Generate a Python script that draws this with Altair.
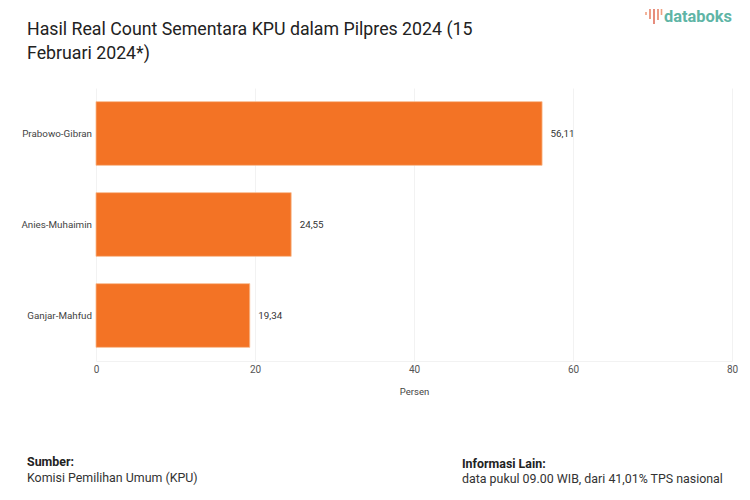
import altair as alt
import pandas as pd

candidates = ["Prabowo-Gibran", "Anies-Muhaimin", "Ganjar-Mahfud"]
values = [56.11, 24.55, 19.34]
x_ticks = [0, 20, 40, 60, 80]
title_lines = ["Hasil Real Count Sementara KPU dalam Pilpres 2024 (15", "Februari 2024*)"]
source_head = "Sumber:"
source_body = "Komisi Pemilihan Umum (KPU)"
info_head = "Informasi Lain:"
info_body = "data pukul 09.00 WIB, dari 41,01% TPS nasional"
logo_text = "databoks"

FONT = "Roboto"
df = pd.DataFrame({
    "kandidat": candidates,
    "persen": values,
    "label": [f"{v:.2f}".replace(".", ",") for v in values],
})

y = alt.Y("kandidat:N", sort=candidates, title=None,
          scale=alt.Scale(paddingInner=0.3, paddingOuter=0.15),
          axis=alt.Axis(ticks=False, domain=False, grid=False, labelFont=FONT,
                        labelFontSize=9.8, labelColor="#444444", labelPadding=4.5))
x = alt.X("persen:Q", title="Persen",
          scale=alt.Scale(domain=[0, 80], nice=False),
          axis=alt.Axis(values=x_ticks, ticks=False, domain=True, domainColor="#f2f2f2",
                        grid=True, gridColor="#f2f2f2", labelFont=FONT, labelFontSize=10,
                        labelColor="#555555", labelPadding=3, titleFont=FONT,
                        titleFontSize=9.5, titleFontWeight="normal", titleColor="#444444",
                        titlePadding=12, labelFlush=False))

bars = alt.Chart(df).mark_bar(color="#F37325", stroke="#F9B98C", strokeWidth=0.8).encode(x=x, y=y)
labels = alt.Chart(df).mark_text(align="left", baseline="middle", dx=8.5, font=FONT,
                                 fontSize=9.8, color="#333333").encode(
    x="persen:Q", y=alt.Y("kandidat:N", sort=candidates), text="label:N")


def note(text, px, py, size, weight="normal", color="#222222"):
    return alt.Chart(pd.DataFrame({"t": [text]})).mark_text(
        align="left", baseline="alphabetic", font=FONT, fontSize=size,
        fontWeight=weight, color=color, clip=False).encode(
        x=alt.value(px), y=alt.value(py), text="t:N")


def stroke(px, py, py2, color):
    return alt.Chart(pd.DataFrame({"a": [0]})).mark_rule(color=color, strokeWidth=1.6, clip=False).encode(
        x=alt.value(px), y=alt.value(py), y2=alt.value(py2))


left = 88
top = 80
layers = [
    bars, labels,
    note(title_lines[0], 27 - 8 - left, 35 - 8 - top, 17.75),
    note(title_lines[1], 27 - 8 - left, 59 - 8 - top, 17.75),
    note(source_head, 27 - 8 - left, 466 - 8 - top, 12.4, "bold"),
    note(source_body, 27 - 8 - left, 482 - 8 - top, 12.4, "normal", "#333333"),
    note(info_head, 462 - 8 - left, 468 - 8 - top, 12.4, "bold"),
    note(info_body, 462 - 8 - left, 483 - 8 - top, 12.4, "normal", "#333333"),
    note(logo_text, 664 - 8 - left, 22 - 8 - top, 16.4, "bold", "#5FB5A6"),
]
for px, py, py2, col in [(646, 12, 15, "#F0A080"), (650, 9, 19, "#E8846A"), (654, 9, 24, "#E0705C"),
                         (658, 9, 20, "#E8846A"), (661.5, 9, 15, "#F0A080")]:
    layers.append(stroke(px - 8 - left, py - 8 - top, py2 - 8 - top, col))

chart = alt.layer(*layers).properties(
    width=636, height=273,
    autosize=alt.AutoSizeParams(type="none"),
    padding={"left": left, "top": top, "right": 10, "bottom": 126},
    background="white",
).configure_view(stroke=None)

chart.save("out.html", embed_options={"renderer": "svg", "actions": False})
